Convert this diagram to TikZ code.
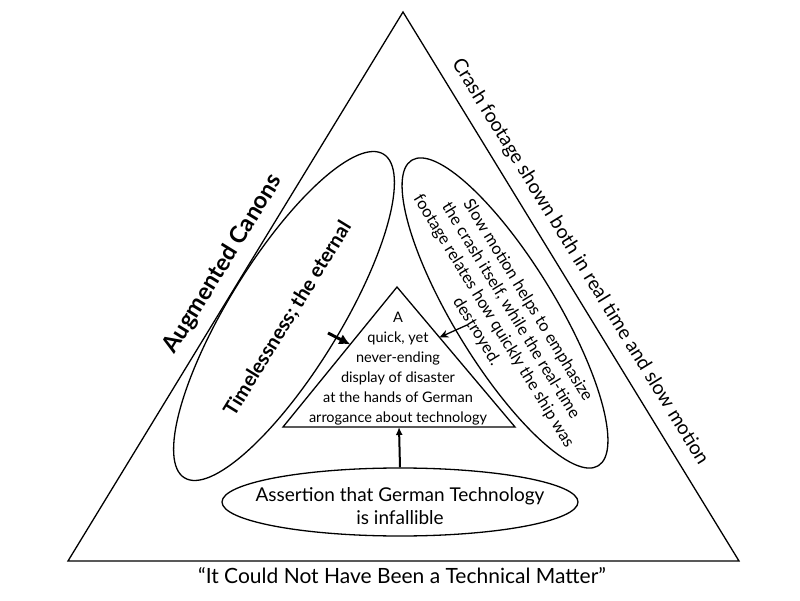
\documentclass[tikz,border=0pt]{standalone}
\usepackage{fontspec}
\setmainfont{Lato}
\usetikzlibrary{shapes.geometric,arrows.meta,positioning,calc}

\begin{document}
\begin{tikzpicture}[x=1pt, y=1pt, line width=1.3pt,
        oval/.style={ellipse, draw, inner sep=0pt},
        txt/.style={align=center, inner sep=0pt}]
        \useasboundingbox (0,0) rectangle (800,600);

        % outer triangle
        \coordinate (top) at (403,588);
        \coordinate (left) at (68,39);
        \coordinate (right) at (739,39);
        \draw (top) -- (left) -- (right) -- cycle;

        % inner triangle
        \coordinate (itop) at (397,313);
        \coordinate (ileft) at (283,173);
        \coordinate (iright) at (515,173);
        \draw (itop) -- (ileft) -- (iright) -- cycle;
        \node (core) [txt, font=\fontsize{14.5}{20}\selectfont] at (398,231) {A\\quick, yet\\never-ending\\display of disaster\\at the hands of German\\arrogance about technology};

        % ellipses
        \node (timeless) [oval, minimum width=380pt, minimum height=112pt, rotate=58.4] at (284,284) {};
        \node (slowmo) [oval, minimum width=358pt, minimum height=102pt, rotate=-58.6] at (505,287) {};
        \node (assert) [oval, minimum width=356pt, minimum height=68pt] at (400,98) {};

        \node [txt, rotate=58.4, font=\bfseries\fontsize{20}{22}\selectfont] at (288,281) {Timelessness; the eternal};
        \node [txt, rotate=-58.6, font=\fontsize{16.5}{20}\selectfont] at (502,284) {Slow motion helps to emphasize\\the crash itself, while the real-time\\footage relates how quickly the ship was\\destroyed.};
        \node [txt, font=\fontsize{19}{23}\selectfont] at (400,94) {Assertion that German Technology\\is infallible};

        % side labels
        \node (canons) [txt, rotate=58.4, font=\bfseries\fontsize{23.5}{26}\selectfont] at (223,336) {Augmented Canons};
        \node (crash) [txt, rotate=-58.4, font=\fontsize{19.5}{22}\selectfont] at (580,338) {Crash footage shown both in real time and slow motion};
        \node (matter) [txt, font=\fontsize{21}{24}\selectfont] at (402,24) {``It Could Not Have Been a Technical Matter''};

        % arrows
        \coordinate (ltail) at (328,267);
        \coordinate (rtail) at (467,275);
        \coordinate (ibase) at ($(ileft)!0.5!(iright)$);
        \draw[-{Latex[length=11pt,width=11pt]}, line width=3pt] (ltail) -- ($(ileft)!0.59!(itop)$);
        \draw[-{Stealth[length=9pt,width=8pt]}, line width=1.3pt] (rtail) -- ($(iright)!0.64!(itop)$);
        \draw[-{Latex[length=8pt,width=7pt]}, line width=2pt] (assert.north) -- (ibase);
\end{tikzpicture}
\end{document}
